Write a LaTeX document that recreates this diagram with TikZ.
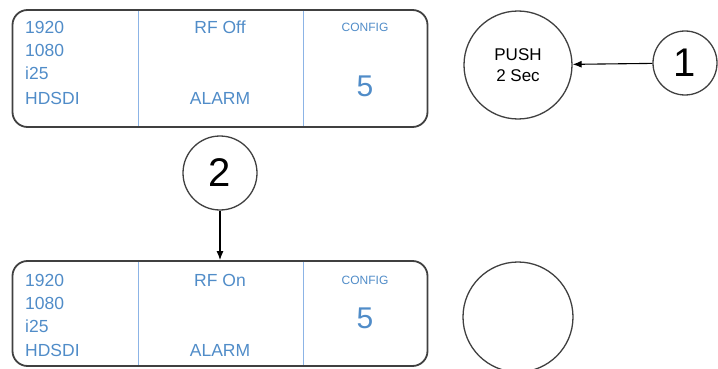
\documentclass[tikz,border=0pt]{standalone}
\usepackage{fontspec}
\setmainfont{Liberation Sans}
\usetikzlibrary{arrows.meta}
\definecolor{lcdtext}{RGB}{80,140,200}
\definecolor{lcdline}{RGB}{140,180,230}
\definecolor{rim}{RGB}{64,64,64}

\begin{document}
\begin{tikzpicture}[x=1pt, y=-1pt,
        panel/.style={draw=rim, line width=1.8pt, rounded corners=15pt, inner sep=0pt},
        lcd/.style={text=lcdtext, inner sep=0pt, font=\fontsize{17.5}{17.5}\selectfont},
        knob/.style={circle, draw=rim, line width=1.3pt, inner sep=0pt, align=center},
        tag/.style={circle, draw=rim, line width=1.3pt, inner sep=0pt, font=\fontsize{40}{40}\selectfont}]
            \useasboundingbox (0, 0) rectangle (718, 369);
            % upper display
            \node[panel, minimum width=415pt, minimum height=117pt] (upper) at (220, 68.5) {};
            \draw[lcdline, line width=1pt] (138, 11) -- (138, 126);
            \draw[lcdline, line width=1pt] (303, 11) -- (303, 126);
            \node[lcd, anchor=base west] (ua) at (25, 34) {1920};
            \node[lcd, anchor=base west] (ub) at (25, 57) {1080};
            \node[lcd, anchor=base west] (uc) at (25, 80) {i25};
            \node[lcd, anchor=base west] (ud) at (25, 104) {HDSDI};
            \node[lcd, anchor=base] (urf) at (220, 34) {RF Off};
            \node[lcd, anchor=base] (ual) at (220, 104) {ALARM};
            \node[lcd, anchor=base, font=\fontsize{12}{12}\selectfont] (ucf) at (365, 32) {CONFIG};
            \node[lcd, anchor=base, font=\fontsize{30}{30}\selectfont] (unum) at (365, 96) {5};
            % lower display
            \node[panel, minimum width=415pt, minimum height=105pt] (lower) at (220, 313.5) {};
            \draw[lcdline, line width=1pt] (138, 262) -- (138, 365);
            \draw[lcdline, line width=1pt] (303, 262) -- (303, 365);
            \node[lcd, anchor=base west] (la) at (25, 286) {1920};
            \node[lcd, anchor=base west] (lb) at (25, 309) {1080};
            \node[lcd, anchor=base west] (lc) at (25, 332) {i25};
            \node[lcd, anchor=base west] (ld) at (25, 356) {HDSDI};
            \node[lcd, anchor=base] (lrf) at (220, 286) {RF On};
            \node[lcd, anchor=base] (lal) at (220, 356) {ALARM};
            \node[lcd, anchor=base, font=\fontsize{12}{12}\selectfont] (lcf) at (365, 284) {CONFIG};
            \node[lcd, anchor=base, font=\fontsize{30}{30}\selectfont] (lnum) at (365, 328) {5};
            % buttons and callouts
            \node[knob, minimum size=108pt, font=\fontsize{17}{21}\selectfont] (push) at (518, 65) {PUSH\\2 Sec};
            \node[knob, minimum size=110pt] (blank) at (518, 317) {};
            \node[tag, minimum size=64pt] (one) at (685, 63) {1};
            \node[tag, minimum size=74pt] (two) at (220, 173) {2};
            \draw[-{Latex[length=9pt, width=7pt]}, line width=1.1pt] (one) -- (push);
            \draw[-{Latex[length=9pt, width=7pt]}, line width=1.1pt] (two) -- (two |- lower.north);
        \end{tikzpicture}
\end{document}
